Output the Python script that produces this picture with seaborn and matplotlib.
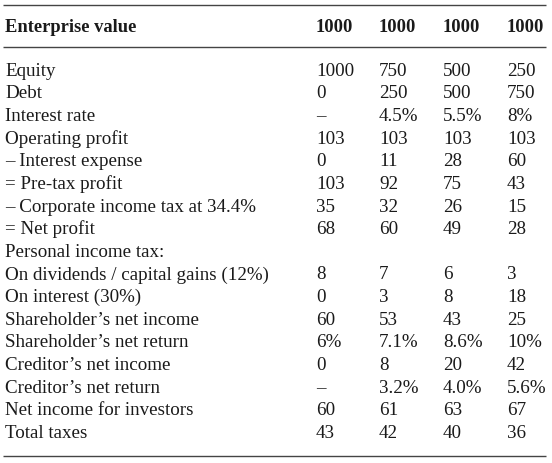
import seaborn as sns
import matplotlib.pyplot as plt

# table content
header_label = 'Enterprise value'
enterprise_value = ['1000', '1000', '1000', '1000']

row_labels = [
    'Equity', 'Debt', 'Interest rate', 'Operating profit',
    '\u2013 Interest expense', '= Pre-tax profit',
    '\u2013 Corporate income tax at 34.4%', '= Net profit',
    'Personal income tax:', 'On dividends / capital gains (12%)',
    'On interest (30%)', 'Shareholder\u2019s net income',
    'Shareholder\u2019s net return', 'Creditor\u2019s net income',
    'Creditor\u2019s net return', 'Net income for investors', 'Total taxes',
]
case_a = ['1000', '0', '\u2013', '103', '0', '103', '35', '68', '', '8', '0', '60', '6%', '0', '\u2013', '60', '43']
case_b = ['750', '250', '4.5%', '103', '11', '92', '32', '60', '', '7', '3', '53', '7.1%', '8', '3.2%', '61', '42']
case_c = ['500', '500', '5.5%', '103', '28', '75', '26', '49', '', '6', '8', '43', '8.6%', '20', '4.0%', '63', '40']
case_d = ['250', '750', '8%', '103', '60', '43', '15', '28', '', '3', '18', '25', '10%', '42', '5.6%', '67', '36']

sns.set_theme(style='white')
plt.rcParams['font.family'] = ['Liberation Serif', 'DejaVu Serif']

fig = plt.figure(figsize=(5.52, 4.63), dpi=100)
ax = fig.add_axes([0, 0, 1, 1])
ax.set_xlim(0, 552)
ax.set_ylim(463, 0)
ax.axis('off')

txt = '#1a1a1a'
fs = 13.7
fs_head = 13.3
col_x = [316, 379, 443, 507]
label_x = 5
first_base = 75.7
step = 22.64

# header
ax.text(label_x, 32, header_label, fontsize=fs_head, fontweight='bold', color=txt, va='baseline')
for x, v in zip(col_x, enterprise_value):
    ax.text(x, 32, v, fontsize=fs_head, fontweight='bold', color=txt, va='baseline')

# body
cols = [case_a, case_b, case_c, case_d]
for i, lab in enumerate(row_labels):
    y = first_base + i * step
    ax.text(label_x, y, lab, fontsize=fs, color=txt, va='baseline')
    for x, c in zip(col_x, cols):
        ax.text(x, y, c[i], fontsize=fs, color=txt, va='baseline')

# rules
for y in [4.5, 47, 455.5]:
    ax.plot([3, 546], [y, y], color='#444444', lw=1.0, solid_capstyle='butt')

plt.savefig('out.png', dpi=100)
